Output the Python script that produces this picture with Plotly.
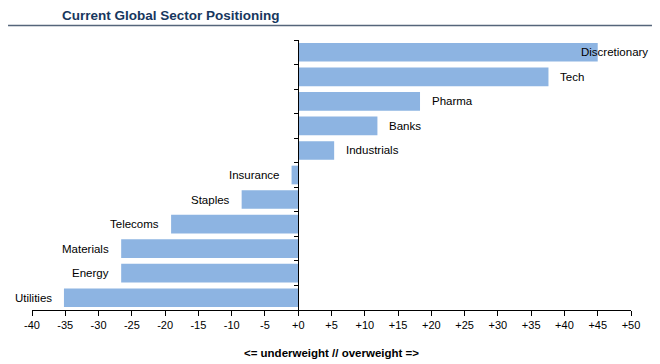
import plotly.graph_objects as go

sectors = ["Discretionary", "Tech", "Pharma", "Banks", "Industrials", "Insurance",
           "Staples", "Telecoms", "Materials", "Energy", "Utilities"]
values = [45.0, 37.6, 18.3, 11.9, 5.4, -1.0, -8.5, -19.1, -26.6, -26.6, -35.2]
tick_values = list(range(-40, 55, 5))
tick_labels = [("+%d" % t) if t >= 0 else str(t) for t in tick_values]

x_min, x_max = -40, 50
FONT = "Liberation Sans, Arial, sans-serif"

# the page body adds an 8px margin, so the figure is drawn 8px smaller
W, H = 652, 356

fig = go.Figure(go.Bar(
    x=values, y=sectors, orientation="h",
    marker=dict(color="#8DB4E2", line=dict(width=0)),
    hoverinfo="x+y",
))

annotations = []
for s, v in zip(sectors, values):
    if v >= 0:
        if v > 40:
            annotations.append(dict(x=1.032, xref="paper", y=s, yref="y", text=s,
                                    xanchor="right", showarrow=False))
        else:
            annotations.append(dict(x=v, xref="x", y=s, yref="y", text=s,
                                    xanchor="left", xshift=10, showarrow=False))
    else:
        annotations.append(dict(x=v, xref="x", y=s, yref="y", text=s,
                                xanchor="right", xshift=-10, showarrow=False))

fig.update_layout(
    width=W, height=H,
    margin=dict(l=24, r=29, t=32, b=54, autoexpand=False),
    paper_bgcolor="white", plot_bgcolor="white",
    font=dict(family=FONT, size=11.5, color="black"),
    showlegend=False,
    bargap=0.24,
    title=dict(text="<b>Current Global Sector Positioning</b>",
               x=54 / W, xanchor="left", xref="container",
               y=1 - 7 / H, yanchor="middle", yref="container",
               font=dict(family=FONT, size=13.5, color="#17375E")),
    xaxis=dict(range=[x_min, x_max], tickvals=tick_values, ticktext=tick_labels,
               showline=True, linecolor="black", linewidth=1,
               ticks="outside", ticklen=5, tickcolor="black",
               showgrid=False, zeroline=False, automargin=False,
               tickfont=dict(size=11),
               title=dict(text="<b><= underweight // overweight =></b>",
                          font=dict(size=11.5), standoff=18)),
    yaxis=dict(anchor="free", position=(0 - x_min) / (x_max - x_min),
               showline=True, linecolor="black", linewidth=1,
               ticks="outside", ticklen=4, tickcolor="black", tickson="boundaries",
               showticklabels=False, showgrid=False, zeroline=False,
               automargin=False, autorange="reversed"),
    annotations=annotations,
    shapes=[dict(type="line", xref="paper", yref="paper", layer="above",
                 x0=-0.040, x1=1.035, y0=1.0537, y1=1.0537,
                 line=dict(color="#55657A", width=1.5))],
)

fig.write_html("out.html", config={"displayModeBar": False})
